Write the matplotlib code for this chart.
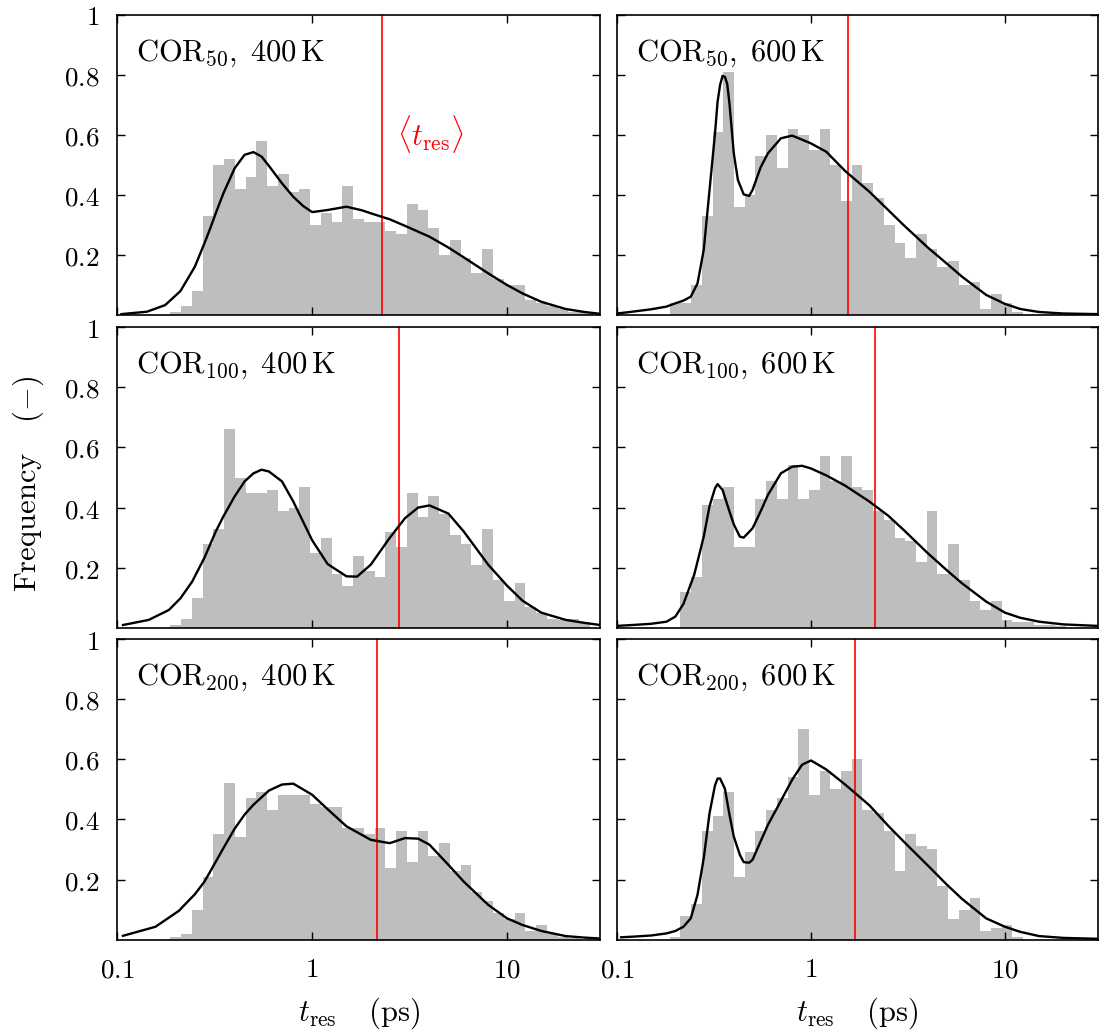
import numpy as np
import matplotlib
matplotlib.use('Agg')
import matplotlib.pyplot as plt
from matplotlib.ticker import FixedLocator, NullLocator, FuncFormatter

plt.rcParams['mathtext.fontset'] = 'cm'
plt.rcParams['font.family'] = 'serif'
plt.rcParams['font.serif'] = ['DejaVu Serif']
plt.rcParams['axes.unicode_minus'] = True

# ---------------- data ----------------
# histogram bins: equal width in log10(t_res)
bin_log_start = -0.728
bin_log_width = 0.0552
n_bins = 39

panel_sizes = ['50', '50', '100', '100', '200', '200']
panel_temps = ['400', '600', '400', '600', '400', '600']
mean_tres = [2.27, 1.56, 2.8, 2.15, 2.15, 1.69]

hist_cor50_400 = [0.01, 0.03, 0.08, 0.33, 0.50, 0.52, 0.42, 0.46, 0.58, 0.43,
                  0.47, 0.41, 0.42, 0.30, 0.34, 0.31, 0.43, 0.32, 0.31, 0.31,
                  0.28, 0.27, 0.37, 0.35, 0.29, 0.20, 0.25, 0.19, 0.14, 0.22,
                  0.12, 0.10, 0.10, 0.05, 0.04, 0.03, 0.02, 0.01, 0.01]
hist_cor50_600 = [0.04, 0.04, 0.10, 0.33, 0.61, 0.81, 0.36, 0.40, 0.53, 0.60,
                  0.49, 0.62, 0.60, 0.55, 0.62, 0.50, 0.38, 0.50, 0.44, 0.39,
                  0.30, 0.24, 0.19, 0.27, 0.22, 0.16, 0.18, 0.10, 0.11, 0.02,
                  0.07, 0.04, 0.01, 0.0, 0.0, 0.0, 0.0, 0.0, 0.0]
hist_cor100_400 = [0.01, 0.03, 0.10, 0.28, 0.33, 0.66, 0.50, 0.45, 0.45, 0.46,
                   0.39, 0.40, 0.47, 0.25, 0.30, 0.18, 0.14, 0.24, 0.19, 0.17,
                   0.32, 0.27, 0.45, 0.37, 0.44, 0.38, 0.31, 0.28, 0.21, 0.33,
                   0.16, 0.09, 0.15, 0.07, 0.05, 0.03, 0.025, 0.03, 0.02]
hist_cor100_600 = [0.0, 0.12, 0.17, 0.41, 0.43, 0.47, 0.27, 0.27, 0.43, 0.49,
                   0.43, 0.54, 0.43, 0.46, 0.57, 0.49, 0.57, 0.47, 0.46, 0.39,
                   0.36, 0.30, 0.29, 0.22, 0.39, 0.18, 0.28, 0.16, 0.09, 0.06,
                   0.09, 0.025, 0.02, 0.02, 0.01, 0.01, 0.005, 0.0, 0.0]
hist_cor200_400 = [0.01, 0.02, 0.10, 0.21, 0.35, 0.52, 0.34, 0.47, 0.49, 0.43,
                   0.48, 0.48, 0.48, 0.45, 0.44, 0.44, 0.37, 0.37, 0.35, 0.37,
                   0.24, 0.36, 0.26, 0.36, 0.28, 0.32, 0.23, 0.25, 0.16, 0.13,
                   0.09, 0.07, 0.09, 0.03, 0.05, 0.02, 0.01, 0.005, 0.0]
hist_cor200_600 = [0.01, 0.08, 0.12, 0.36, 0.41, 0.49, 0.21, 0.29, 0.36, 0.43,
                   0.47, 0.54, 0.70, 0.48, 0.56, 0.50, 0.56, 0.60, 0.43, 0.42,
                   0.36, 0.23, 0.35, 0.31, 0.30, 0.18, 0.07, 0.10, 0.14, 0.03,
                   0.04, 0.05, 0.01, 0.0, 0.0, 0.0, 0.0, 0.0, 0.0]

kde_x_cor50_400 = [0.105, 0.142, 0.176, 0.211, 0.25, 0.28, 0.3, 0.32, 0.35, 0.4,
                   0.45, 0.5, 0.55, 0.6, 0.7, 0.8, 0.9, 1, 1.2, 1.5, 1.8, 2, 2.5, 3,
                   4, 5, 6, 8, 10, 12, 15, 20, 25, 30]
kde_y_cor50_400 = [0.002, 0.01, 0.032, 0.079, 0.16, 0.238, 0.288, 0.338, 0.404, 0.488,
                   0.533, 0.542, 0.527, 0.496, 0.438, 0.393, 0.362, 0.342, 0.349, 0.36,
                   0.348, 0.338, 0.318, 0.296, 0.26, 0.224, 0.191, 0.138, 0.099, 0.071,
                   0.043, 0.019, 0.009, 0.003]
kde_x_cor50_600 = [0.1, 0.12, 0.15, 0.18, 0.2, 0.22, 0.24, 0.26, 0.28, 0.3,
                   0.32, 0.33, 0.34, 0.35, 0.36, 0.37, 0.38, 0.4, 0.42, 0.45, 0.48, 0.5,
                   0.55, 0.6, 0.7, 0.8, 1, 1.2, 1.5, 2, 2.5, 3,
                   4, 5, 6, 8, 10, 12, 15, 20, 30]
kde_y_cor50_600 = [0.004, 0.01, 0.018, 0.027, 0.038, 0.047, 0.06, 0.104, 0.216, 0.416,
                   0.604, 0.71, 0.766, 0.796, 0.793, 0.769, 0.704, 0.538, 0.449, 0.401,
                   0.396, 0.416, 0.491, 0.538, 0.588, 0.597, 0.571, 0.543, 0.479, 0.41,
                   0.349, 0.299, 0.224, 0.171, 0.127, 0.066, 0.036, 0.019, 0.009, 0.004,
                   0.002]
kde_x_cor100_400 = [0.107, 0.145, 0.184, 0.211, 0.242, 0.28, 0.3, 0.32, 0.35, 0.4,
                    0.45, 0.5, 0.55, 0.6, 0.7, 0.8, 1, 1.2, 1.5, 1.7, 2,
                    2.5, 3, 3.5, 4, 5, 6, 8, 10, 12, 15, 20, 25, 30]
kde_y_cor100_400 = [0.009, 0.026, 0.059, 0.098, 0.153, 0.233, 0.278, 0.32, 0.37, 0.437,
                    0.487, 0.514, 0.526, 0.52, 0.487, 0.42, 0.291, 0.212, 0.171, 0.17,
                    0.21, 0.299, 0.365, 0.4, 0.407, 0.38, 0.32, 0.21, 0.14, 0.09, 0.05,
                    0.026, 0.016, 0.009]
kde_x_cor100_600 = [0.1, 0.12, 0.15, 0.18, 0.2, 0.22, 0.25, 0.28, 0.3, 0.32,
                    0.33, 0.35, 0.38, 0.4, 0.43, 0.45, 0.5, 0.55, 0.6, 0.7,
                    0.8, 0.9, 1, 1.2, 1.5, 2, 2.5, 3, 4, 5,
                    6, 8, 10, 12, 15, 20, 30]
kde_y_cor100_600 = [0.006, 0.009, 0.013, 0.02, 0.037, 0.079, 0.176, 0.303, 0.405, 0.464,
                    0.478, 0.459, 0.387, 0.344, 0.303, 0.3, 0.331, 0.387, 0.442, 0.514,
                    0.536, 0.539, 0.53, 0.507, 0.473, 0.42, 0.373, 0.326, 0.248, 0.192,
                    0.148, 0.087, 0.05, 0.033, 0.02, 0.011, 0.006]
kde_x_cor200_400 = [0.107, 0.157, 0.207, 0.22, 0.25, 0.28, 0.3, 0.35, 0.4, 0.45,
                    0.5, 0.6, 0.7, 0.8, 1, 1.2, 1.5, 2, 2.5, 3,
                    3.5, 4, 5, 6, 8, 10, 12, 15, 20, 25, 30]
kde_y_cor200_400 = [0.013, 0.043, 0.096, 0.114, 0.151, 0.193, 0.227, 0.304, 0.369, 0.416,
                    0.449, 0.496, 0.516, 0.519, 0.482, 0.434, 0.377, 0.332, 0.321, 0.338,
                    0.336, 0.316, 0.249, 0.193, 0.116, 0.071, 0.049, 0.029, 0.012, 0.007,
                    0.004]
kde_x_cor200_600 = [0.105, 0.12, 0.15, 0.18, 0.2, 0.22, 0.24, 0.26, 0.28, 0.3,
                    0.32, 0.33, 0.34, 0.36, 0.38, 0.4, 0.43, 0.45, 0.48, 0.5,
                    0.55, 0.6, 0.7, 0.8, 0.9, 1, 1.2, 1.5, 2, 2.5,
                    3, 4, 5, 6, 8, 10, 12, 15, 20, 30]
kde_y_cor200_600 = [0.008, 0.01, 0.014, 0.021, 0.029, 0.043, 0.071, 0.149, 0.271, 0.421,
                    0.513, 0.536, 0.536, 0.502, 0.416, 0.343, 0.282, 0.258, 0.256, 0.266,
                    0.327, 0.382, 0.462, 0.532, 0.582, 0.596, 0.566, 0.516, 0.447, 0.379,
                    0.327, 0.247, 0.184, 0.136, 0.071, 0.043, 0.026, 0.012, 0.006, 0.003]

hists = [hist_cor50_400, hist_cor50_600, hist_cor100_400,
         hist_cor100_600, hist_cor200_400, hist_cor200_600]
kde_xs = [kde_x_cor50_400, kde_x_cor50_600, kde_x_cor100_400,
          kde_x_cor100_600, kde_x_cor200_400, kde_x_cor200_600]
kde_ys = [kde_y_cor50_400, kde_y_cor50_600, kde_y_cor100_400,
          kde_y_cor100_600, kde_y_cor200_400, kde_y_cor200_600]

x_ticks = [0.1, 1, 10]
y_ticks = [0.2, 0.4, 0.6, 0.8, 1.0]

# ---------------- layout ----------------
W, H = 1099, 1034
fig = plt.figure(figsize=(W / 100, H / 100), dpi=100)

col_px = [(117.3, 600.0), (617.0, 1097.5)]
row_px = [(14.7, 314.7), (327.3, 627.7), (639.0, 939.7)]

FS_TICK = 19.5
FS_TEXT = 22
edges = 10 ** (bin_log_start + bin_log_width * np.arange(n_bins + 1))
fmt = FuncFormatter(lambda v, p: '$%g$' % v)

for i in range(6):
    r, c = divmod(i, 2)
    x0, x1 = col_px[c]
    t0, t1 = row_px[r]
    ax = fig.add_axes([x0 / W, 1 - t1 / H, (x1 - x0) / W, (t1 - t0) / H])
    ax.set_xscale('log')
    ax.set_xlim(0.1, 30)
    ax.set_ylim(0, 1)

    ax.stairs(hists[i], edges, fill=True, color='#bebebe', lw=0, zorder=1)
    ax.axvline(mean_tres[i], color='#ff0000', lw=1.2, zorder=2)
    ax.plot(kde_xs[i], kde_ys[i], color='black', lw=1.7, zorder=3,
            solid_joinstyle='round')

    ax.text(0.039, 0.847,
            r'$\mathrm{COR}_{%s},\;%s\,\mathrm{K}$' % (panel_sizes[i], panel_temps[i]),
            transform=ax.transAxes, fontsize=FS_TEXT, ha='left', va='baseline')
    if i == 0:
        ax.text(2.72, 0.566, r'$\langle t_\mathrm{res}\rangle$', color='#ff0000',
                fontsize=FS_TEXT, ha='left', va='baseline',
                transform=ax.get_xaxis_transform())

    ax.xaxis.set_major_locator(FixedLocator(x_ticks))
    ax.xaxis.set_minor_locator(NullLocator())
    ax.yaxis.set_major_locator(FixedLocator(y_ticks))
    ax.yaxis.set_minor_locator(NullLocator())
    ax.xaxis.set_major_formatter(fmt)
    ax.yaxis.set_major_formatter(fmt)
    ax.tick_params(which='both', direction='in', top=True, right=True,
                   length=6, width=1.0, labelsize=FS_TICK)
    ax.tick_params(axis='x', pad=12)
    ax.tick_params(axis='y', pad=13)
    if r < 2:
        ax.tick_params(axis='x', labelbottom=False)
    if c == 1:
        ax.tick_params(axis='y', labelleft=False)
    for s in ax.spines.values():
        s.set_linewidth(1.2)

    if r == 2:
        ax.set_xlabel(r'$t_\mathrm{res}\quad\,(\mathrm{ps})$', fontsize=FS_TEXT, labelpad=9)

fig.text(28 / W, 1 - 484 / H, r'$\mathrm{Frequency}\quad\,(-)$', rotation=90,
         fontsize=FS_TEXT, ha='center', va='center')

fig.savefig('out.png', dpi=100)
